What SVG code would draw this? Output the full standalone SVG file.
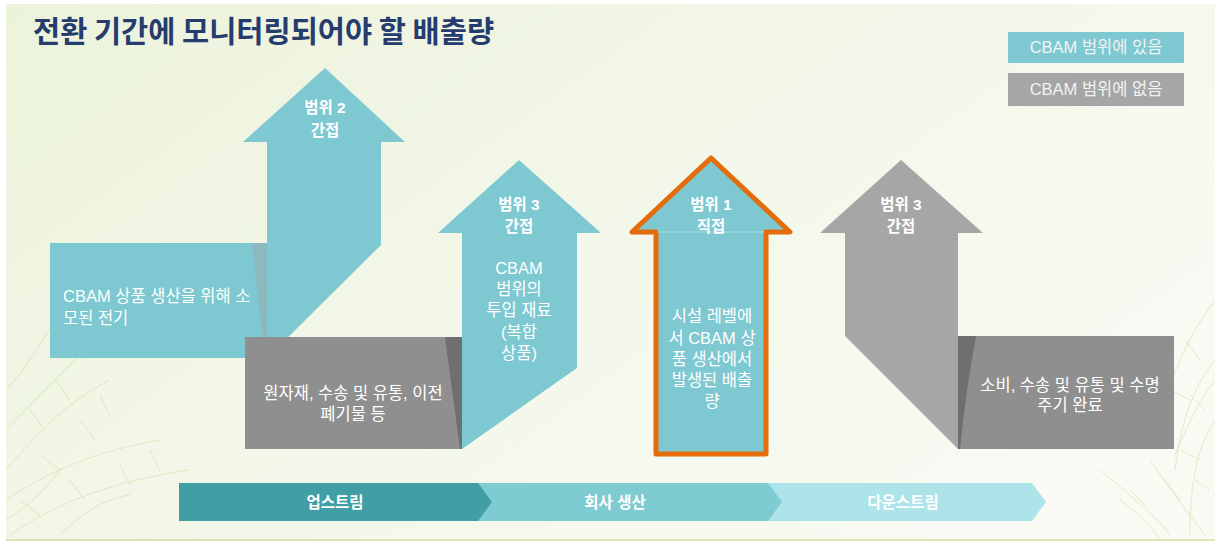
<svg xmlns="http://www.w3.org/2000/svg" width="1215" height="542" viewBox="0 0 1215 542">
  <defs>
    <linearGradient id="bg" x1="0" y1="0" x2="1" y2="0.6">
      <stop offset="0" stop-color="#ecf3db"/>
      <stop offset="0.55" stop-color="#f3f7e9"/>
      <stop offset="1" stop-color="#f8faf3"/>
    </linearGradient>
    <style>
      .teal { fill: #7ec8d2; }
      .grayA { fill: #a6a6a6; }
      .grayB { fill: #8f8f8f; }
      .shadeT { fill: #8bb9c0; }
      .shadeG { fill: #6f6f6f; }
      .t { font-family: "Liberation Sans", "Noto Sans CJK KR", sans-serif; fill: #ffffff; }
      .lbl { font-size: 15.5px; font-weight: bold; text-anchor: middle; }
      .body { font-size: 16.5px; }
      .mid { text-anchor: middle; }
      .leg { font-size: 16.5px; fill: #f2f4f4; text-anchor: middle; }
      .bar { font-size: 15.5px; font-weight: bold; text-anchor: middle; }
      .vein { fill: none; stroke: #c6da8e; stroke-width: 1; opacity: 0.45; }
    </style>
  </defs>

  <!-- slide background -->
  <rect x="0" y="0" width="1215" height="542" fill="#ffffff"/>
  <rect x="6" y="4" width="1209" height="536" fill="url(#bg)"/>
  <line x1="6" y1="540" x2="1215" y2="540" stroke="#cfe1a4" stroke-width="1.5"/>

  <!-- leaf vein ornaments -->
  <g id="veins-left" class="vein">
    <path d="M6 470 C40 430 70 400 110 380 M6 430 C30 405 55 380 85 350 M6 390 C25 370 40 345 55 320 M6 500 C50 470 100 450 160 440 M10 535 C60 500 120 480 190 470"/>
    <path d="M30 410 L45 430 M55 380 L70 400 M40 455 L60 470 M80 420 L95 440 M100 395 L110 415 M20 500 L40 515 M70 480 L85 500 M120 465 L130 485 M150 450 L160 472"/>
    <path d="M6 520 C30 505 45 490 60 470 M60 535 C80 515 100 500 130 495"/>
  </g>
  <g id="veins-right" class="vein">
    <path d="M1215 300 C1185 340 1170 380 1160 420 M1215 360 C1190 390 1180 430 1175 470 M1215 420 C1195 450 1190 490 1190 535 M1150 460 C1170 490 1190 515 1205 535 M1100 470 C1130 495 1155 515 1170 535"/>
    <path d="M1185 340 L1200 360 M1170 390 L1190 400 M1190 395 L1205 410 M1180 450 L1200 460 M1165 480 L1180 500 M1195 480 L1210 490 M1130 490 L1145 505"/>
    <path d="M1175 455 C1190 420 1200 400 1215 380 M1120 500 C1140 515 1150 525 1160 540"/>
  </g>

  <!-- title -->
  <text id="title" x="33" y="42" font-family="'Noto Sans CJK KR', sans-serif" font-size="29.5" font-weight="bold" fill="#263c6e">전환 기간에 모니터링되어야 할 배출량</text>

  <!-- legend -->
  <g id="legend-in">
    <rect x="1008" y="32" width="176" height="31" class="teal"/>
    <text x="1096" y="53" class="t leg">CBAM 범위에 있음</text>
  </g>
  <g id="legend-out">
    <rect x="1008" y="73" width="176" height="33" class="grayA"/>
    <text x="1096" y="95" class="t leg">CBAM 범위에 없음</text>
  </g>

  <!-- scope 2: purchased electricity -->
  <g id="scope2">
    <rect x="50" y="243" width="217" height="115" class="teal"/>
    <path d="M252 243 L267 243 L267 358 L265 358 Q258 300 252 243 Z" class="shadeT"/>
    <path d="M325 68 L405 142 L381 142 L381 245 L267 358 L267 142 L243 142 Z" class="teal"/>
    <text x="325" y="113" class="t lbl">범위 2</text>
    <text x="325" y="136" class="t lbl">간접</text>
    <text x="63" y="302" class="t body">CBAM 상품 생산을 위해 소</text>
    <text x="63" y="324" class="t body">모된 전기</text>
  </g>

  <!-- scope 3 upstream -->
  <g id="scope3-up">
    <rect x="245" y="337" width="217" height="112" class="grayB"/>
    <path d="M445 337 L462 337 L462 449 L460 449 Q452 390 445 337 Z" class="shadeG"/>
    <path d="M519 160 L601 233 L577 233 L577 368 L462 449 L462 233 L438 233 Z" class="teal"/>
    <text x="519" y="210" class="t lbl">범위 3</text>
    <text x="519" y="232" class="t lbl">간접</text>
    <text x="519" y="274" class="t body mid">CBAM</text>
    <text x="519" y="295" class="t body mid">범위의</text>
    <text x="519" y="316" class="t body mid">투입 재료</text>
    <text x="519" y="338" class="t body mid">(복합</text>
    <text x="519" y="359" class="t body mid">상품)</text>
    <text x="353" y="399" class="t body mid">원자재, 수송 및 유통, 이전</text>
    <text x="353" y="420" class="t body mid">폐기물 등</text>
  </g>

  <!-- scope 1 direct -->
  <g id="scope1">
    <path d="M711 158 L790 232 L766 232 L766 454 L656 454 L656 232 L632 232 Z" class="teal" stroke="#e46c0a" stroke-width="5" stroke-linejoin="round"/>
    <line x1="658" y1="232" x2="764" y2="232" stroke="#a9dde4" stroke-width="1"/>
    <text x="711" y="210" class="t lbl">범위 1</text>
    <text x="711" y="232" class="t lbl">직접</text>
    <text x="712" y="322" class="t body mid">시설 레벨에</text>
    <text x="712" y="344" class="t body mid">서 CBAM 상</text>
    <text x="712" y="365" class="t body mid">품 생산에서</text>
    <text x="712" y="386" class="t body mid">발생된 배출</text>
    <text x="712" y="407" class="t body mid">량</text>
  </g>

  <!-- scope 3 downstream -->
  <g id="scope3-down">
    <path d="M901 160 L983 233 L958 233 L958 449 L845 336 L845 233 L820 233 Z" class="grayA"/>
    <rect x="958" y="336" width="216" height="113" class="grayB"/>
    <path d="M958 336 L976 336 Q966 390 960 449 L958 449 Z" class="shadeG"/>
    <text x="901" y="210" class="t lbl">범위 3</text>
    <text x="901" y="232" class="t lbl">간접</text>
    <text x="1070" y="391" class="t body mid">소비, 수송 및 유통 및 수명</text>
    <text x="1070" y="411" class="t body mid">주기 완료</text>
  </g>

  <!-- value chain stages -->
  <g id="stage-down">
    <path d="M768 483 L1032 483 L1046 502 L1032 521 L768 521 Z" fill="#ade4ea"/>
    <text x="903" y="508" class="t bar">다운스트림</text>
  </g>
  <g id="stage-company">
    <path d="M478 483 L768 483 L782 502 L768 521 L478 521 Z" fill="#7ecbd1"/>
    <text x="615" y="508" class="t bar">회사 생산</text>
  </g>
  <g id="stage-up">
    <path d="M179 483 L478 483 L492 502 L478 521 L179 521 Z" fill="#419ea5"/>
    <text x="335" y="508" class="t bar">업스트림</text>
  </g>
</svg>
